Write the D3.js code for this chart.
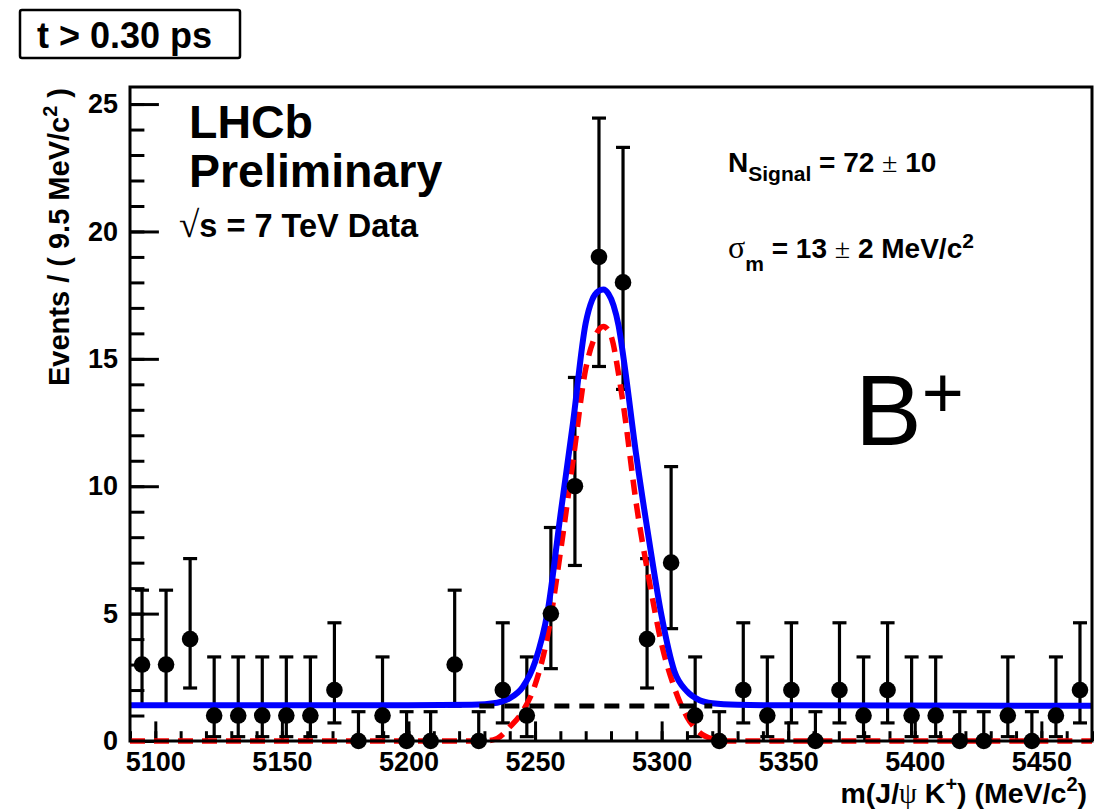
<!DOCTYPE html>
<html>
<head>
<meta charset="utf-8">
<script src="https://cdn.jsdelivr.net/npm/d3@7"></script>
<style>
  body { margin: 0; background: #fff; }
  text { font-family: "Liberation Sans", Arial, sans-serif; font-weight: bold; }
  .sym { font-family: "Liberation Serif", "DejaVu Serif", serif; font-weight: normal; }
</style>
</head>
<body>
<script>
// B+ mass fit, 9.5 MeV/c2 bins between 5090 and 5470
const binCentres = [5094.75, 5104.25, 5113.75, 5123.25, 5132.75, 5142.25, 5151.75, 5161.25,
  5170.75, 5180.25, 5189.75, 5199.25, 5208.75, 5218.25, 5227.75, 5237.25, 5246.75, 5256.25,
  5265.75, 5275.25, 5284.75, 5294.25, 5303.75, 5313.25, 5322.75, 5332.25, 5341.75, 5351.25,
  5360.75, 5370.25, 5379.75, 5389.25, 5398.75, 5408.25, 5417.75, 5427.25, 5436.75, 5446.25,
  5455.75, 5465.25];
const counts = [3, 3, 4, 1, 1, 1, 1, 1, 2, 0, 1, 0, 0, 3, 0, 2, 1, 5, 10, 19,
  18, 4, 7, 1, 0, 2, 1, 2, 0, 2, 1, 2, 1, 1, 0, 0, 1, 0, 1, 2];

// error bar ends, per count
const errCounts = [0, 1, 2, 3, 4, 5, 7, 10, 18, 19];
const errLow    = [0, 0.17, 0.71, 1.37, 2.08, 2.84, 4.41, 6.89, 13.8, 14.7];
const errHigh   = [1.15, 3.30, 4.64, 5.92, 7.16, 8.38, 10.77, 14.27, 23.3, 24.45];

// total fit (blue)
const totalMass = [5090, 5200, 5225, 5235, 5240, 5245, 5250, 5255, 5260, 5265, 5270, 5272.5,
  5275, 5277, 5279, 5281, 5283, 5285, 5290, 5295, 5300, 5305, 5310, 5315, 5320, 5330, 5350, 5470];
const totalVal = [1.40, 1.40, 1.42, 1.50, 1.68, 2.10, 3.10, 5.10, 8.85, 12.5, 16.4, 17.3,
  17.65, 17.72, 17.55, 17.1, 16.3, 15.0, 11.2, 7.9, 4.9, 2.75, 1.95, 1.6, 1.48, 1.42, 1.40, 1.38];

// signal component (red dashed)
const sigMass = [5090, 5230, 5235, 5240, 5245, 5250, 5255, 5260, 5265, 5270, 5273, 5277,
  5280, 5283, 5285, 5290, 5295, 5300, 5305, 5310, 5315, 5320, 5325, 5470];
const sigVal = [0, 0, 0.1, 0.55, 1.15, 2.2, 4.15, 7.4, 11.0, 14.6, 15.7, 16.27,
  15.9, 14.4, 13.1, 9.3, 6.35, 3.8, 2.1, 0.95, 0.33, 0.08, 0, 0];

// background component (black dashed)
const bkgMass = [5228, 5320];
const bkgVal = [1.37, 1.37];

const xMajor = [5100, 5150, 5200, 5250, 5300, 5350, 5400, 5450];
const yMajor = [0, 5, 10, 15, 20, 25];

const W = 1111, H = 812;
const svg = d3.select("body").append("svg").attr("width", W).attr("height", H);

const x = d3.scaleLinear().domain([5090, 5470]).range([130, 1092]);
const y = d3.scaleLinear().domain([0, 25.67]).range([741, 87]);

// axes (ticks pointing into the frame)
svg.append("g")
  .attr("transform", "translate(0,741)")
  .call(d3.axisBottom(x).tickValues(d3.range(5090, 5471, 10)).tickSize(-9.8).tickFormat(""))
  .call(g => g.select(".domain").remove());
svg.append("g")
  .attr("transform", "translate(0,741)")
  .call(d3.axisBottom(x).tickValues(xMajor).tickSize(-19.6).tickPadding(11).tickFormat(d3.format("d")))
  .call(g => g.select(".domain").remove());
svg.append("g")
  .attr("transform", "translate(130,0)")
  .call(d3.axisLeft(y).tickValues(d3.range(0, 26, 1)).tickSize(-14.4).tickFormat(""))
  .call(g => g.select(".domain").remove());
svg.append("g")
  .attr("transform", "translate(130,0)")
  .call(d3.axisLeft(y).tickValues(yMajor).tickSize(-28.9).tickPadding(12).tickFormat(d3.format("d")))
  .call(g => g.select(".domain").remove());

svg.selectAll(".tick line").attr("stroke", "#000").attr("stroke-width", 3);
svg.selectAll(".tick text").attr("fill", "#000")
  .style("font-size", "27px").style("font-family", "'Liberation Sans', Arial, sans-serif")
  .style("font-weight", "bold");

// data points with error bars
const pts = binCentres.map((m, i) => {
  const k = errCounts.indexOf(counts[i]);
  return {m: m, n: counts[i], lo: errLow[k], hi: errHigh[k]};
});
const bars = svg.append("g").attr("stroke", "#000").attr("stroke-width", 3.2);
bars.selectAll(".eb").data(pts).enter().append("line")
  .attr("x1", d => x(d.m)).attr("x2", d => x(d.m))
  .attr("y1", d => y(d.lo)).attr("y2", d => y(d.hi));
bars.selectAll(".capTop").data(pts).enter().append("line")
  .attr("x1", d => x(d.m) - 7).attr("x2", d => x(d.m) + 7)
  .attr("y1", d => y(d.hi)).attr("y2", d => y(d.hi));
bars.selectAll(".capBot").data(pts).enter().append("line")
  .attr("x1", d => x(d.m) - 7).attr("x2", d => x(d.m) + 7)
  .attr("y1", d => y(d.lo)).attr("y2", d => y(d.lo));

// fit curves
const line = d3.line().x(d => x(d[0])).y(d => y(d[1])).curve(d3.curveMonotoneX);
svg.append("path")
  .datum(sigMass.map((m, i) => [m, sigVal[i]]))
  .attr("d", line).attr("fill", "none").attr("stroke", "#ff0000")
  .attr("stroke-width", 5.5).attr("stroke-dasharray", "15,9");
svg.append("path")
  .datum(totalMass.map((m, i) => [m, totalVal[i]]))
  .attr("d", line).attr("fill", "none").attr("stroke", "#0000ff").attr("stroke-width", 6);
svg.append("path")
  .datum(bkgMass.map((m, i) => [m, bkgVal[i]]))
  .attr("d", d3.line().x(d => x(d[0])).y(d => y(d[1])))
  .attr("fill", "none").attr("stroke", "#000").attr("stroke-width", 5).attr("stroke-dasharray", "15,10");

svg.append("g").selectAll("circle").data(pts).enter().append("circle")
  .attr("cx", d => x(d.m)).attr("cy", d => y(d.n)).attr("r", 8.3).attr("fill", "#000");

// frame
svg.append("rect").attr("x", 130).attr("y", 87).attr("width", 962).attr("height", 654)
  .attr("fill", "none").attr("stroke", "#000").attr("stroke-width", 3);

// axis titles
const xt = svg.append("text").attr("x", 1087).attr("y", 803).attr("text-anchor", "end")
  .style("font-size", "28.5px");
xt.append("tspan").text("m(J/");
xt.append("tspan").attr("class", "sym").text("ψ");
xt.append("tspan").text(" K");
xt.append("tspan").attr("dy", -12).style("font-size", "20px").text("+");
xt.append("tspan").attr("dy", 12).text(") (MeV/c");
xt.append("tspan").attr("dy", -12).style("font-size", "20px").text("2");
xt.append("tspan").attr("dy", 12).text(")");

const yt = svg.append("text").attr("transform", "translate(69,88) rotate(-90)")
  .attr("text-anchor", "end").style("font-size", "29px");
yt.append("tspan").text("Events / ( 9.5 MeV/c");
yt.append("tspan").attr("dy", -12).style("font-size", "20px").text("2");
yt.append("tspan").attr("dy", 12).text(" )");

// cut label box
svg.append("rect").attr("x", 20).attr("y", 10).attr("width", 220).attr("height", 48).attr("rx", 2)
  .attr("fill", "#fff").attr("stroke", "#000").attr("stroke-width", 2.5);
svg.append("text").attr("x", 37).attr("y", 48).style("font-size", "36px").text("t > 0.30 ps");

// LHCb labels
svg.append("text").attr("x", 189).attr("y", 138).style("font-size", "46.5px").text("LHCb");
svg.append("text").attr("x", 189).attr("y", 187).style("font-size", "46.5px").text("Preliminary");
const rs = svg.append("text").attr("x", 179).attr("y", 237).style("font-size", "32.5px");
rs.append("tspan").attr("class", "sym").style("font-weight", "bold").style("font-size", "37px").text("√");
rs.append("tspan").text("s = 7 TeV Data");

// fit results
const ns = svg.append("text").attr("x", 728).attr("y", 172).style("font-size", "28px");
ns.append("tspan").text("N");
ns.append("tspan").attr("dy", 9).style("font-size", "21px").text("Signal");
ns.append("tspan").attr("dy", -9).text(" = 72 ");
ns.append("tspan").attr("class", "sym").text("±");
ns.append("tspan").text(" 10");

const sm = svg.append("text").attr("x", 728).attr("y", 258).style("font-size", "28px");
sm.append("tspan").attr("class", "sym").style("font-size", "32px").text("σ");
sm.append("tspan").attr("dy", 13).style("font-size", "21px").text("m");
sm.append("tspan").attr("dy", -13).text(" = 13 ");
sm.append("tspan").attr("class", "sym").text("±");
sm.append("tspan").text(" 2 MeV/c");
sm.append("tspan").attr("dy", -10).style("font-size", "21px").text("2");

// particle label
const bp = svg.append("text").attr("x", 855).attr("y", 445)
  .style("font-weight", "normal").style("font-size", "100px");
bp.append("tspan").text("B");
bp.append("tspan").attr("dy", -28).style("font-size", "72px").text("+");
</script>
</body>
</html>
